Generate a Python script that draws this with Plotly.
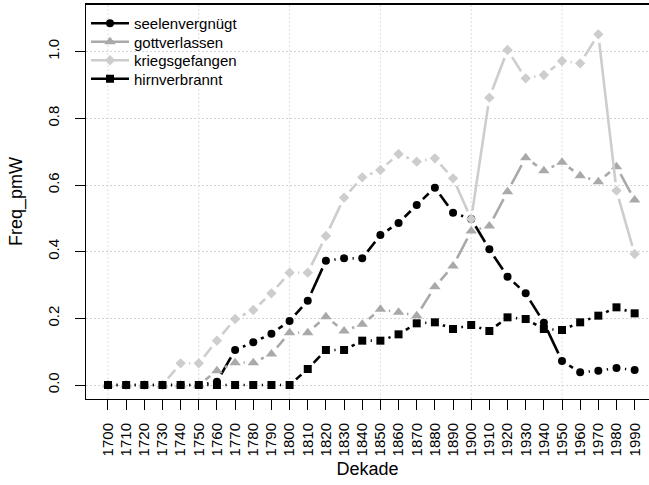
import math
import plotly.graph_objects as go

# ---------------- data ----------------
decades = [1700, 1710, 1720, 1730, 1740, 1750, 1760, 1770, 1780, 1790,
           1800, 1810, 1820, 1830, 1840, 1850, 1860, 1870, 1880, 1890,
           1900, 1910, 1920, 1930, 1940, 1950, 1960, 1970, 1980, 1990]
tick_labels = [str(d) for d in decades]

seelenvergnuegt = [0, 0, 0, 0, 0, 0, 0.010, 0.105, 0.128, 0.154,
                   0.192, 0.253, 0.373, 0.380, 0.380, 0.450, 0.486, 0.540, 0.592, 0.517,
                   0.498, 0.407, 0.325, 0.275, 0.187, 0.072, 0.038, 0.043, 0.051, 0.045]
gottverlassen = [0, 0, 0, 0, 0, 0, 0.043, 0.067, 0.067, 0.093,
                 0.157, 0.157, 0.205, 0.162, 0.182, 0.227, 0.218, 0.208, 0.295, 0.357,
                 0.462, 0.477, 0.580, 0.682, 0.643, 0.668, 0.628, 0.610, 0.655, 0.555]
kriegsgefangen = [0, 0, 0, 0, 0.065, 0.065, 0.133, 0.198, 0.225, 0.275,
                  0.337, 0.337, 0.447, 0.562, 0.623, 0.645, 0.693, 0.670, 0.680, 0.620,
                  0.498, 0.862, 1.005, 0.920, 0.930, 0.972, 0.965, 1.052, 0.583, 0.393]
hirnverbrannt = [0, 0, 0, 0, 0, 0, 0, 0, 0, 0,
                 0, 0.048, 0.105, 0.105, 0.133, 0.133, 0.152, 0.185, 0.188, 0.168,
                 0.180, 0.162, 0.203, 0.198, 0.168, 0.165, 0.188, 0.208, 0.233, 0.215]

series_names = ["seelenvergnügt", "gottverlassen", "kriegsgefangen", "hirnverbrannt"]
series_values = [seelenvergnuegt, gottverlassen, kriegsgefangen, hirnverbrannt]
y_ticks = [0.0, 0.2, 0.4, 0.6, 0.8, 1.0]
grid_years = [1700, 1750, 1800, 1850, 1900, 1950]

# ---------------- styles ----------------
colors = ["#000000", "#A9A9A9", "#CDCDCD", "#000000"]
symbols = ["circle", "triangle-up", "diamond", "square"]
msizes = [8, 10, 8, 8]
legend_ids = ["legend", "legend2", "legend3", "legend4"]
legend_rows_px = [23.5, 42, 60.5, 79]   # vertical centres of legend rows

W, H = 649, 485
ML, MR, MT, MB = 86, 0, 4, 86
XR = [1687.9, 1997.9]
YR = [-0.042, 1.143]
GAP = 8.5  # px gap around points (R type="b")
GRID_DASH = "1.5px,2.5px"

PW, PH = W - ML - MR, H - MT - MB
sx = PW / (XR[1] - XR[0])
sy = PH / (YR[1] - YR[0])


def gapped(xs, ys):
    gx, gy = [], []
    for i in range(len(xs) - 1):
        dx = (xs[i + 1] - xs[i]) * sx
        dy = (ys[i + 1] - ys[i]) * sy
        L = math.hypot(dx, dy)
        if L <= 2 * GAP:
            continue
        t = GAP / L
        gx += [xs[i] + t * (xs[i + 1] - xs[i]), xs[i + 1] - t * (xs[i + 1] - xs[i]), None]
        gy += [ys[i] + t * (ys[i + 1] - ys[i]), ys[i + 1] - t * (ys[i + 1] - ys[i]), None]
    return gx, gy


fig = go.Figure()
for name, vals, c, s, ms, lid in zip(series_names, series_values, colors, symbols,
                                     msizes, legend_ids):
    gx, gy = gapped(decades, vals)
    fig.add_trace(go.Scatter(x=gx, y=gy, mode="lines", line=dict(color=c, width=2.6),
                             showlegend=False, hoverinfo="skip"))
    fig.add_trace(go.Scatter(x=decades, y=vals, mode="markers",
                             marker=dict(symbol=s, size=ms, color=c, line=dict(width=0)),
                             showlegend=False, name=name))
    fig.add_trace(go.Scatter(x=[None], y=[None], mode="lines+markers", name=name,
                             legend=lid, line=dict(color=c, width=2.6),
                             marker=dict(symbol=s, size=ms, color=c, line=dict(width=0))))

for gyr in grid_years:
    fig.add_shape(type="line", xref="x", yref="paper", x0=gyr, x1=gyr, y0=0, y1=1,
                  line=dict(color="#D3D3D3", width=1, dash=GRID_DASH), layer="below")
# slightly heavier top frame line, as in the reference
fig.add_shape(type="line", xref="paper", yref="paper", x0=0, x1=1, y0=1, y1=1,
              line=dict(color="black", width=2), layer="above")

font = "Liberation Sans, Arial, sans-serif"
legends = {}
for lid, row in zip(legend_ids, legend_rows_px):
    legends[lid] = dict(x=0, y=(H - MB - row) / PH, xanchor="left", yanchor="middle",
                        bgcolor="rgba(0,0,0,0)", borderwidth=0, font=dict(size=15),
                        itemwidth=38)

fig.update_layout(
    width=W, height=H,
    margin=dict(l=ML, r=MR, t=MT, b=MB),
    paper_bgcolor="white", plot_bgcolor="white",
    font=dict(family=font, size=15, color="black"),
    xaxis=dict(range=XR, tickmode="array", tickvals=decades, ticktext=tick_labels,
               tickangle=-90, ticks="outside", ticklen=10, tickcolor="black",
               showgrid=False, zeroline=False, showline=True, mirror=True,
               linecolor="black", linewidth=1, ticklabelstandoff=7,
               title=dict(text="Dekade", standoff=7), tickfont=dict(size=15)),
    yaxis=dict(range=YR, tickmode="array", tickvals=y_ticks, tickformat=".1f",
               tickangle=-90, ticks="outside", ticklen=10, tickcolor="black",
               showgrid=True, gridcolor="#D3D3D3", griddash=GRID_DASH, gridwidth=1,
               zeroline=False, showline=True, mirror=True, linecolor="black", linewidth=1,
               ticklabelstandoff=10, title=dict(text="Freq_pmW", standoff=17),
               tickfont=dict(size=15)),
    **legends,
)

fig.write_html("out.html", config={"displayModeBar": False},
               post_script="document.body.style.margin='0px';")
